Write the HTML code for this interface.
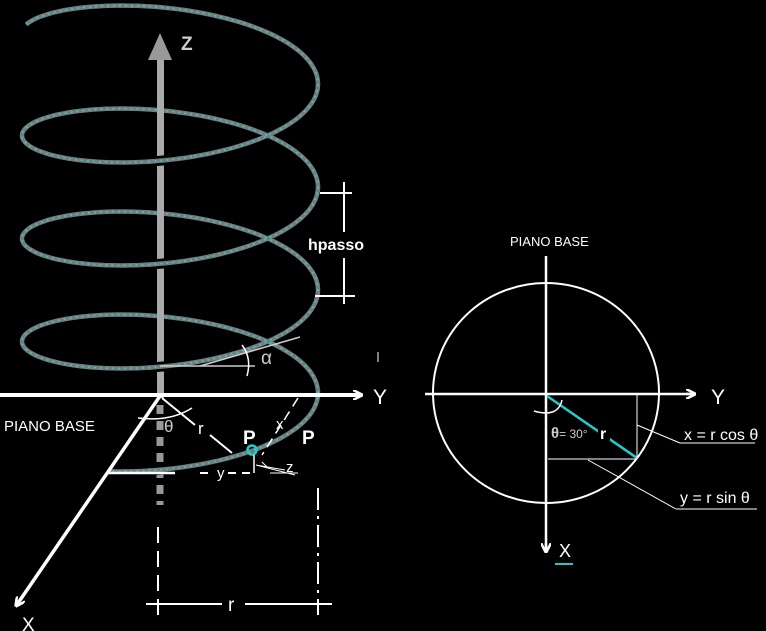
<!DOCTYPE html>
<html><head><meta charset="utf-8"><style>
html,body{margin:0;padding:0;background:#000;width:766px;height:631px;overflow:hidden}
svg{display:block}
text{font-family:"Liberation Sans",sans-serif;fill:#fff}
</style></head><body>
<svg id="s" width="766" height="631" viewBox="0 0 766 631">
<defs>
<marker id="ah" markerWidth="10" markerHeight="10" refX="9" refY="5" orient="auto" markerUnits="userSpaceOnUse"><path d="M0,0 L10,5 L0,10 M0,5 L10,5" stroke="#fff" stroke-width="2.5" fill="none"/></marker>
</defs>
<g id="helix"></g>
<!-- Z axis -->
<g>
<rect x="157" y="58" width="7" height="340" fill="#aaa"/>
<polygon points="160,33 148,60 172,60" fill="#999"/>
<line x1="160" y1="405" x2="160" y2="505" stroke="#999" stroke-width="7" stroke-dasharray="9,7"/>
<text x="181" y="50" font-size="19" style="fill:#ccc" font-weight="bold">Z</text>
</g>
<g id="helixFront"></g>
<!-- Y axis left -->
<line x1="0" y1="395" x2="362" y2="395" stroke="#fff" stroke-width="4" marker-end="url(#ah)"/>
<text x="373" y="404" font-size="21">Y</text>
<line x1="160" y1="396" x2="16" y2="606" stroke="#fff" stroke-width="3.5" marker-end="url(#ah)"/>
<text x="22" y="631" font-size="19">X</text>
<text x="4" y="431" font-size="15">PIANO BASE</text>
<path d="M138,418 Q170,422 192,408" stroke="#fff" stroke-width="1.5" fill="none"/>
<text x="164" y="432" font-size="17" font-family="Liberation Serif" style="fill:#ccc">θ</text>
<line x1="162" y1="398" x2="195" y2="425" stroke="#fff" stroke-width="2"/>
<text x="198" y="434" font-size="17">r</text>
<line x1="210" y1="435" x2="232" y2="453" stroke="#fff" stroke-width="2"/>
<line x1="160" y1="366" x2="255" y2="366" stroke="#ccc" stroke-width="1.5"/>
<line x1="200" y1="366" x2="300" y2="337" stroke="#ccc" stroke-width="1.5"/>
<path d="M242,345 Q252,358 247,376" stroke="#fff" stroke-width="1.5" fill="none"/>
<text x="261" y="364" font-size="19" font-family="Liberation Serif" style="fill:#ccc">α</text>
<line x1="298" y1="398" x2="262" y2="455" stroke="#fff" stroke-width="1.5" stroke-dasharray="10,6"/>
<text x="276" y="429" font-size="15">x</text>
<text x="243" y="444" font-size="19" font-weight="bold">P</text>
<text x="302" y="444" font-size="19" font-weight="bold">P</text>
<circle cx="252" cy="450" r="4.5" fill="none" stroke="#2cc" stroke-width="2.5"/>
<line x1="106" y1="473" x2="175" y2="473" stroke="#fff" stroke-width="2.5"/>
<line x1="200" y1="473" x2="254" y2="473" stroke="#fff" stroke-width="2" stroke-dasharray="8,6"/>
<rect x="214" y="464" width="14" height="14" fill="#000"/>
<text x="217" y="478" font-size="15">y</text>
<line x1="254" y1="455" x2="254" y2="473" stroke="#fff" stroke-width="1.5"/>
<path d="M256,465 L295,475 M256,465 L285,470 M262,462 L268,468" stroke="#fff" stroke-width="1"/>
<text x="286" y="472" font-size="15">z</text>
<line x1="270" y1="473" x2="298" y2="473" stroke="#fff" stroke-width="1"/>
<g stroke="#fff" stroke-width="2">
<line x1="344" y1="182" x2="344" y2="232"/><line x1="344" y1="258" x2="344" y2="304"/>
<line x1="320" y1="193" x2="352" y2="193"/><line x1="315" y1="296" x2="355" y2="296"/>
</g>
<text x="308" y="250" font-size="16" font-weight="bold">hpasso</text>
<g stroke="#fff" stroke-width="2">
<line x1="158" y1="527" x2="158" y2="615" stroke-dasharray="16,8"/>
<line x1="318" y1="488" x2="318" y2="615" stroke-dasharray="22,6,3,6"/>
<line x1="146" y1="604" x2="222" y2="604"/><line x1="245" y1="604" x2="332" y2="604"/>
</g>
<text x="228" y="611" font-size="19">r</text>
<line x1="378" y1="352" x2="378" y2="362" stroke="#fff" stroke-width="1"/>
<g>
<text x="510" y="246" font-size="13">PIANO BASE</text>
<ellipse cx="546" cy="393" rx="113" ry="110" fill="none" stroke="#fff" stroke-width="2"/>
<line x1="546" y1="256" x2="546" y2="552" stroke="#fff" stroke-width="2.5" marker-end="url(#ah)"/>
<line x1="425" y1="394" x2="695" y2="394" stroke="#fff" stroke-width="2.5" marker-end="url(#ah)"/>
<text x="711" y="404" font-size="21">Y</text>
<text x="559" y="557" font-size="18">X</text>
<line x1="555" y1="564" x2="573" y2="564" stroke="#2cc" stroke-width="2"/>
<line x1="547" y1="396" x2="637" y2="458" stroke="#2cc" stroke-width="2.5"/>
<rect x="598" y="425" width="12" height="16" fill="#000"/>
<text x="600" y="439" font-size="16" font-weight="bold">r</text>
<line x1="637" y1="394" x2="637" y2="458" stroke="#fff" stroke-width="1"/>
<line x1="548" y1="459" x2="637" y2="459" stroke="#fff" stroke-width="1"/>
<path d="M534,411 Q558,418 562,400" stroke="#fff" stroke-width="1.5" fill="none"/>
<text x="551" y="438" font-size="15" font-weight="bold" style="fill:#ccc">θ<tspan font-size="12" font-weight="normal">= 30°</tspan></text>
<line x1="637" y1="425" x2="680" y2="443" stroke="#fff" stroke-width="1"/>
<line x1="680" y1="443" x2="755" y2="443" stroke="#fff" stroke-width="1"/>
<text x="684" y="440" font-size="16">x = r cos θ</text>
<line x1="588" y1="460" x2="676" y2="509" stroke="#fff" stroke-width="1"/>
<line x1="676" y1="509" x2="757" y2="509" stroke="#fff" stroke-width="1"/>
<text x="680" y="503" font-size="16">y = r sin θ</text>
</g>
</svg>
<script>
const turnRightY=[84,188,291,393];
const cx=170,R=148,B=50,P=103;
const ns='http://www.w3.org/2000/svg';
function pathFor(ta,tb,n){let d='';for(let i=0;i<=n;i++){const t=ta+(tb-ta)*i/n;
const x=cx+R*Math.cos(t),y=turnRightY[0]+P*t/(2*Math.PI)+B*Math.sin(t);
d+=(i?'L':'M')+x.toFixed(1)+','+y.toFixed(1);}return d;}
function addHelix(g,d,name){
const p1=document.createElementNS(ns,'path');
p1.setAttribute('d',d);p1.setAttribute('stroke','#7a7a7a');p1.setAttribute('stroke-width','4.5');p1.setAttribute('fill','none');


g.appendChild(p1);
const p2=document.createElementNS(ns,'path');
p2.setAttribute('d',d);p2.setAttribute('stroke','#2cc');p2.setAttribute('stroke-width','2');p2.setAttribute('fill','none');p2.setAttribute('stroke-dasharray','2,4');


g.appendChild(p2);}
addHelix(document.getElementById('helix'),pathFor(-2.9,3*Math.PI*2+2.0,600),'helix-curve');
const gf=document.getElementById('helixFront');
for(let k=0;k<4;k++){const c=Math.PI/2+k*2*Math.PI;
const gap=document.createElementNS(ns,'path');
gap.setAttribute('d',pathFor(c-0.12,c+0.12,10));gap.setAttribute('stroke','#000');gap.setAttribute('stroke-width','10');gap.setAttribute('fill','none');


gf.appendChild(gap);
addHelix(gf,pathFor(c-0.15,c+0.15,12),'helix-front-segment');}
</script>
</body></html>
